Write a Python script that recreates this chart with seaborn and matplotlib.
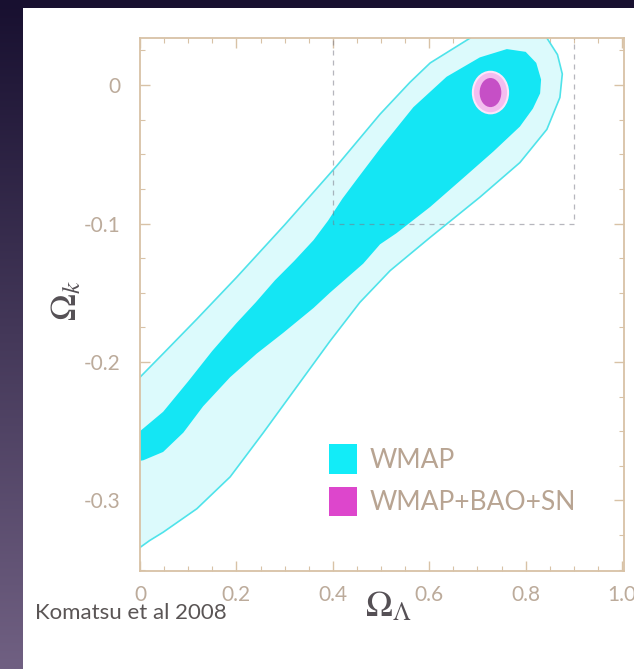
import numpy as np
import matplotlib
matplotlib.use("Agg")
import matplotlib.pyplot as plt
from matplotlib.patches import Patch, Ellipse, Rectangle
from matplotlib.ticker import MultipleLocator
import seaborn as sns

# ---- WMAP 5-year constraints on (Omega_Lambda, Omega_k) ----
# 95% region outline (Omega_Lambda, Omega_k)
wmap95_x = [-0.01, 0.000, 0.048, 0.118, 0.200, 0.300, 0.409, 0.498, 0.560, 0.602,
            0.685, 0.720, 0.830, 0.844, 0.866, 0.876, 0.871, 0.844, 0.788, 0.705,
            0.602, 0.519, 0.456, 0.394, 0.325, 0.256, 0.187, 0.118, 0.048, 0.020,
            0.000, -0.01]
wmap95_y = [-0.215, -0.211, -0.194, -0.169, -0.139, -0.101, -0.058, -0.021, 0.002, 0.016,
            0.034, 0.045, 0.045, 0.034, 0.022, 0.008, -0.009, -0.032, -0.056, -0.081,
            -0.110, -0.134, -0.157, -0.185, -0.218, -0.251, -0.283, -0.306, -0.323, -0.329,
            -0.334, -0.336]

# 68% region outline
wmap68_x = [-0.01, 0.000, 0.048, 0.100, 0.150, 0.200, 0.240, 0.280, 0.320, 0.360,
            0.390, 0.420, 0.450, 0.500, 0.567, 0.636, 0.705, 0.761, 0.800, 0.822,
            0.832, 0.830, 0.815, 0.788, 0.733, 0.671, 0.602, 0.532, 0.498, 0.463,
            0.394, 0.360, 0.297, 0.242, 0.187, 0.131, 0.090, 0.048, 0.007, -0.01]
wmap68_y = [-0.254, -0.250, -0.236, -0.214, -0.192, -0.172, -0.157, -0.141, -0.127, -0.112,
            -0.098, -0.082, -0.068, -0.045, -0.016, 0.006, 0.020, 0.026, 0.024, 0.016,
            0.004, -0.006, -0.017, -0.030, -0.048, -0.067, -0.088, -0.107, -0.115, -0.129,
            -0.150, -0.161, -0.179, -0.194, -0.211, -0.232, -0.251, -0.265, -0.271, -0.272]

# WMAP+BAO+SN: centre and full widths of the 68% / 95% ellipses
combo_center = [0.727, -0.0054]
combo68_size = [0.045, 0.021]
combo95_size = [0.073, 0.030]

# Zoom window drawn as a dashed box
zoom_box_x = [0.4, 0.4, 0.9, 0.9]
zoom_box_y = [0.04, -0.1, -0.1, 0.04]

legend_labels = ["WMAP", "WMAP+BAO+SN"]
x_ticks = [0, 0.2, 0.4, 0.6, 0.8, 1.0]
x_ticklabels = ["0", "0.2", "0.4", "0.6", "0.8", "1.0"]
y_ticks = [0, -0.1, -0.2, -0.3]
y_ticklabels = ["0", "-0.1", "-0.2", "-0.3"]

sns.set_theme(style="white")
plt.rcParams["font.family"] = ["Lato", "DejaVu Sans"]
plt.rcParams["mathtext.fontset"] = "stix"
plt.rcParams["axes.unicode_minus"] = False

W, H = 634, 669
fig = plt.figure(figsize=(W / 100, H / 100), dpi=100)

# slide background: dark purple gradient with a white panel
bg = fig.add_axes([0, 0, 1, 1], zorder=-10)
top_col = np.array([0x18, 0x10, 0x30]) / 255
bot_col = np.array([0x70, 0x60, 0x82]) / 255
t = np.linspace(0, 1, 256)[:, None, None]
grad = top_col * (1 - t) + bot_col * t
bg.imshow(np.repeat(grad, 2, axis=1), aspect="auto", extent=[0, 1, 0, 1], origin="upper")
bg.add_patch(Rectangle((23 / W, 0), 1, 1 - 8 / H, facecolor="white", edgecolor="none"))
bg.set_xlim(0, 1)
bg.set_ylim(0, 1)
bg.axis("off")

ax = fig.add_axes([140 / W, 1 - 571 / H, (624 - 140) / W, (571 - 38) / H])
ax.set_facecolor("white")

cyan_light = "#dcfafc"
cyan_edge = "#4fe3ea"
cyan_main = "#14e6f4"

ax.fill(wmap95_x, wmap95_y, facecolor=cyan_light, edgecolor="none", zorder=1)
sns.lineplot(x=wmap95_x + wmap95_x[:1], y=wmap95_y + wmap95_y[:1], sort=False,
             estimator=None, errorbar=None, color=cyan_edge, lw=1.2, ax=ax, zorder=2)
ax.fill(wmap68_x, wmap68_y, facecolor=cyan_main, edgecolor="none", zorder=3)

ax.add_patch(Ellipse(combo_center, combo95_size[0], combo95_size[1],
                     facecolor="#f3bdef", edgecolor="#fbe6fa", lw=1.5, zorder=4))
ax.add_patch(Ellipse(combo_center, combo68_size[0], combo68_size[1],
                     facecolor="#c64fc6", edgecolor="none", zorder=5))

sns.lineplot(x=zoom_box_x, y=zoom_box_y, sort=False, estimator=None, errorbar=None,
             color="#7a7a88", lw=0.9, linestyle=(0, (4, 4)), alpha=0.55, ax=ax, zorder=6)

ax.set_xlim(0, 1.004)
ax.set_ylim(-0.351, 0.034)

frame_col = "#d8c2a6"
for s in ax.spines.values():
    s.set_color(frame_col)
    s.set_linewidth(1.3)
    s.set_visible(True)
    s.set_zorder(10)

ax.set_xticks(x_ticks)
ax.set_xticklabels(x_ticklabels)
ax.set_yticks(y_ticks)
ax.set_yticklabels(y_ticklabels)
ax.xaxis.set_minor_locator(MultipleLocator(0.05))
ax.yaxis.set_minor_locator(MultipleLocator(0.025))
ax.tick_params(which="both", direction="in", top=True, right=True, color=frame_col,
               bottom=True, left=True)
ax.tick_params(which="major", length=7, width=1.0)
ax.tick_params(which="minor", length=3.5, width=0.8)
ax.tick_params(axis="x", which="major", pad=10, labelsize=15, labelcolor="#bcab9b")
ax.tick_params(axis="y", which="major", pad=14, labelsize=15, labelcolor="#bcab9b")

fig.text(66 / W, 1 - 300 / H, r"$\Omega_k$", rotation=90, ha="center", va="center",
         fontsize=26, color="#555055")
fig.text(388 / W, 1 - 606 / H, r"$\Omega_\Lambda$", ha="center", va="center",
         fontsize=26, color="#555055")
fig.text(35 / W, 1 - 613 / H, "Komatsu et al 2008", ha="left", va="center",
         fontsize=16, color="#5a5555")

handles = [Patch(facecolor="#12ecf8", edgecolor="none"),
           Patch(facecolor="#dd46cc", edgecolor="none")]
leg = ax.legend(handles, legend_labels, loc="upper left",
                bbox_to_anchor=(329 / W, 1 - 444 / H), bbox_transform=fig.transFigure,
                frameon=False, fontsize=19, handlelength=1.05, handleheight=1.35,
                handletextpad=0.5, labelspacing=0.5, borderpad=0, borderaxespad=0)
for txt in leg.get_texts():
    txt.set_color("#b8a492")

fig.savefig("out.png", dpi=100)
